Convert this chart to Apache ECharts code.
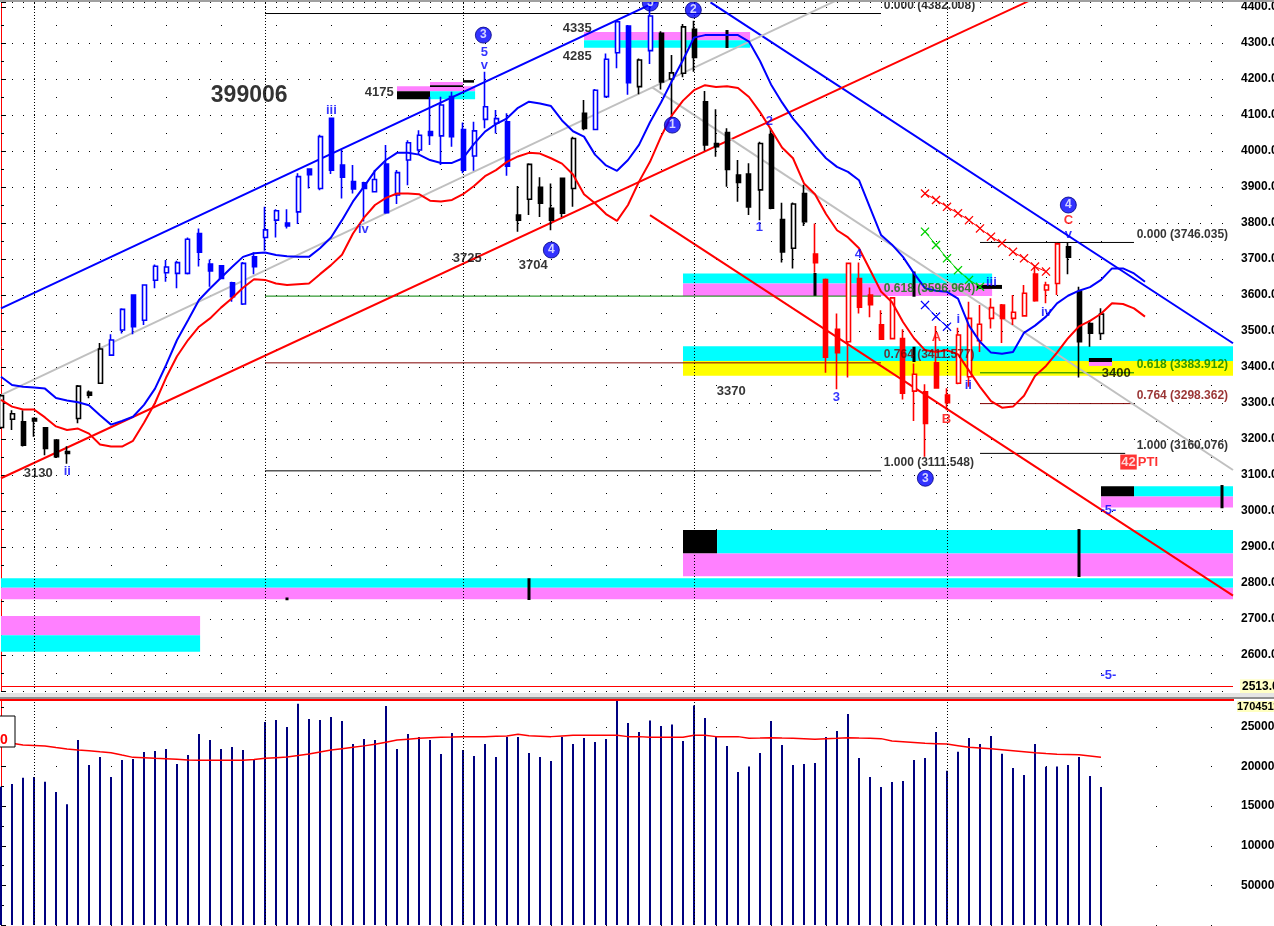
<!DOCTYPE html>
<html><head><meta charset="utf-8">
<script src="https://cdn.jsdelivr.net/npm/echarts@6/dist/echarts.min.js"></script>
<style>html,body{margin:0;padding:0;background:#fff;overflow:hidden}#c{width:1274px;height:926px}</style>
</head><body><div id="c"></div>
<script>
// ---- candle data (bar index = position) ----
const opens  = [3232,3255,3248,3257,3231,3197,3160,3257,3330,3355,3433,3503,3600,3530,3641,3662,3660,3660,3771,3686,3681,3634,3575,3706,3760,3808,3800,3831,3950,3896,4091,3961,3915,3912,3887,3964,3878,3975,4003,4054,4042,4151,4060,3986,4088,4077,4081,3822,3866,3899,3841,3924,3896,4105,4060,4151,4273,4347,4179,4279,4327,4200,4216,4338,4137,4021,4051,3933,3936,3892,4046,3810,3730,3882,3714,3643,3505,3470,3646,3600,3517,3479,3479,3333,3331,3412,3322,3355,3373,3473,3535,3572,3535,3542,3658,3614,3632,3734,3609,3521,3493];
const closes = [3320,3270,3183,3250,3174,3151,3165,3347,3322,3450,3475,3560,3512,3628,3680,3678,3690,3755,3719,3667,3646,3595,3688,3679,3781,3834,3792,3929,3934,4040,3947,3927,3895,3896,3921,3829,3940,4023,4044,4043,4128,4040,3947,4056,4123,4090,3958,3808,3963,3855,3808,3827,4035,4063,4169,4255,4359,4190,4253,4375,4192,4217,4345,4260,4017,4012,3949,3913,3845,4021,3841,3720,3853,3804,3690,3427,3440,3688,3566,3573,3477,3592,3327,3380,3243,3342,3301,3489,3535,3519,3565,3535,3552,3605,3584,3628,3742,3705,3470,3494,3547];
const lows   = [3228,3225,3179,3206,3155,3147,3131,3244,3313,3353,3431,3493,3491,3517,3619,3637,3619,3657,3679,3623,3645,3581,3572,3658,3723,3760,3785,3797,3896,3891,3936,3868,3882,3804,3885,3826,3853,3905,3989,4017,3961,4012,3938,3945,4063,4049,3931,3776,3822,3817,3780,3817,3845,4058,4058,4148,4230,4156,4158,4242,4171,4100,4205,4220,4001,3984,3901,3859,3822,3808,3838,3690,3674,3792,3662,3384,3338,3371,3549,3538,3475,3477,3310,3250,3151,3340,3280,3352,3345,3442,3507,3467,3517,3540,3581,3577,3600,3658,3371,3456,3475];
const highs  = [3325,3280,3280,3260,3232,3199,3180,3350,3335,3467,3491,3563,3602,3630,3685,3697,3695,3760,3785,3699,3683,3637,3692,3719,3845,3838,3838,3938,3952,4045,4092,4003,3961,3915,3947,4017,3947,4030,4058,4151,4151,4165,4079,4081,4220,4114,4105,3903,3966,3927,3910,3926,4040,4142,4172,4271,4364,4350,4257,4405,4333,4267,4353,4362,4167,4116,4063,3975,3966,4026,4063,3856,3857,3906,3799,3646,3549,3690,3690,3621,3558,3593,3505,3410,3352,3514,3341,3509,3581,3572,3591,3575,3600,3628,3683,3637,3745,3746,3623,3530,3563];
// k = black, b = blue, r = red
const candleColors = 'kkkkkkkkkkbbbbbbbbbbbbbbbbbbbbbbbbbbbbbbbbbbbbbkkkkkkkbbbbkbkkkkkkkkkkkkkkrrrrrrrrrrrrrrrrrrrrrrrkkkk'.split('');
// ---- volume ----
const volumes = [17443,17785,18585,18670,18080,16772,15253,23354,20190,21203,18670,20823,20949,21835,21962,22215,20316,21456,24114,23354,22215,22468,22089,20823,25633,25886,25000,27911,26013,25886,26266,25760,22848,23481,23354,27658,22215,24114,23734,23354,21582,24241,22089,21329,22848,21203,23734,23734,21709,21203,20696,23734,22848,23608,23101,23481,28400,25506,24367,25800,25127,25294,23228,27700,26139,23734,22595,19304,20021,21709,25760,22722,20190,20316,20443,23734,24494,26646,21076,18670,17405,18038,18165,20823,21076,24367,19473,21878,23608,22848,23861,21625,19810,18924,22848,19979,20021,20190,21203,18797,17405];
const volumeMA = [23139,22930,22722,22660,22595,22400,22215,22100,22000,21870,21750,21450,21160,21100,21033,20970,20907,20840,20780,20780,20780,20780,20780,20900,21033,21120,21203,21390,21582,21830,22089,22260,22426,22610,22806,23080,23354,23460,23565,23630,23692,23730,23777,23777,23777,23820,23861,24072,23900,23840,23777,23860,23945,23945,23945,23945,23945,23777,23777,23700,23692,23692,23692,23945,23945,23777,23777,23777,23565,23600,23650,23600,23560,23523,23439,23500,23565,23650,23600,23565,23523,23228,23143,23040,22932,22890,22848,22637,22426,22340,22257,22130,22004,21880,21750,21640,21540,21520,21498,21329,21160];
// ---- moving averages (displaced, run past last bar) ----
const maBlue = [3373,3350,3345,3343,3340,3314,3307,3302,3294,3266,3240,3250,3262,3295,3340,3405,3475,3530,3586,3618,3648,3678,3706,3716,3718,3711,3708,3706,3706,3730,3760,3808,3860,3901,3945,3975,3995,3995,3990,3975,3967,3967,3980,4020,4054,4075,4091,4120,4137,4132,4125,4085,4055,4040,3990,3960,3945,3975,4017,4080,4135,4195,4253,4315,4322,4322,4322,4322,4304,4250,4185,4135,4090,4054,4015,3980,3956,3942,3919,3843,3767,3740,3706,3660,3619,3612,3609,3590,3515,3470,3440,3437,3442,3495,3515,3540,3577,3598,3612,3622,3642,3674,3674,3660,3637];
const maRed  = [3309,3290,3282,3282,3260,3235,3225,3229,3215,3185,3179,3179,3195,3245,3300,3370,3430,3475,3512,3535,3565,3591,3620,3644,3642,3632,3628,3630,3632,3658,3683,3712,3771,3815,3850,3870,3882,3882,3880,3862,3860,3864,3880,3903,3930,3947,3970,3985,3995,3993,3980,3965,3935,3880,3855,3825,3806,3850,3915,3970,4040,4100,4140,4169,4183,4178,4180,4175,4150,4108,4060,4010,3980,3910,3880,3825,3780,3760,3730,3670,3610,3580,3525,3480,3447,3442,3447,3435,3390,3345,3305,3287,3290,3320,3375,3403,3440,3480,3513,3528,3548,3577,3575,3563,3540];
// ---- trend lines: [i1, p1, i2, p2, color] ----
const trendLines = [
  [0,3563,59.8,4418,'#0000ff'],
  [64.5,4413,112,3466,'#0000ff'],
  [0,3091,93.6,4419,'#ff0000'],
  [59,3822,112,2765,'#ff0000'],
  [0,3322,76,4419,'#c0c0c0'],
  [59.2,4177,112,3114,'#c0c0c0']
];
// ---- fibonacci levels: [i1, i2, price, color, text] ----
const fibLines = [
  [24,80,4382.008,'#000000','0.000 (4382.008)'],
  [24,80,3596.964,'#008000','0.618 (3596.964)'],
  [24,80,3411.577,'#800000','0.764 (3411.577)'],
  [24,80,3111.548,'#000000','1.000 (3111.548)'],
  [89,103,3746.035,'#000000','0.000 (3746.035)'],
  [89,103,3383.912,'#008000','0.618 (3383.912)'],
  [89,103,3298.362,'#800000','0.764 (3298.362)'],
  [89,102.2,3160.076,'#000000','1.000 (3160.076)']
];
// ---- colour bands: [i1, i2, pTop, pBottom, color] ----
const bands = [
  [36,43.1,4180,4166,'#ff80ff'],[36,39,4166,4144,'#000000'],[39,43.1,4166,4144,'#00ffff'],[39,42,4192,4183,'#ff80ff'],[39,42,4183,4178,'#000000'],[42,43,4197,4190,'#000000'],
  [53,68.1,4331,4308,'#ff80ff'],[53,68.1,4308,4287,'#00ffff'],
  [62,90.1,3660,3632,'#00ffff'],[62,90.1,3632,3597,'#ff80ff'],[88.7,91,3628,3617,'#000000'],
  [62,112,3458,3417,'#00ffff'],[62,112,3417,3376,'#ffff00'],[98.9,101,3425,3414,'#000000'],[98.9,101,3414,3403,'#ff80ff'],
  [100,103,3069,3040,'#000000'],[103,112,3069,3040,'#00ffff'],[100,112,3040,3010,'#ff80ff'],
  [62,65.1,2947,2882,'#000000'],[65.1,112,2947,2882,'#00ffff'],[62,112,2882,2819,'#ff80ff'],
  [0,112,2813,2787,'#00ffff'],[0,112,2787,2755,'#ff80ff'],
  [0,18.1,2708,2655,'#ff80ff'],[0,18.1,2655,2609,'#00ffff']
];
// ---- black vertical markers: [i, pTop, pBottom] ----
const markers = [[66,4336,4286],[74,3661,3597],[83,3665,3595],[83,3456,3414],[98,2950,2817],[111,3072,3008],[48,2813,2753],[26,2760,2752]];
// ---- cross series ----
const redCrossIdx = [84,85,86,87,88,89,90,91,92,93,94,95];
const redCrossVal = [3882,3864,3845,3827,3808,3785,3762,3744,3720,3702,3679,3665];
const greenCrossIdx = [84,85,86,87,88,89];
const greenCrossVal = [3776,3739,3702,3669,3642,3623];
const blueCrossIdx = [84,85,86];
const blueCrossVal = [3572,3540,3512];
// ---- wave circles: [i, p, text] ----
const waveCircles = [[43.85,4322,'3'],[59.03,4411,'5'],[62.94,4392,'2'],[61.03,4072,'1'],[50.03,3725,'4'],[84.03,3091,'3'],[97.03,3850,'4']];
// ---- wave texts (centered): [i, p, text, color] ----
const waveTexts = [
  [43.94,4275,'5','#0000ff'],[43.94,4239,'v','#0000ff'],[30.03,4114,'iii','#0000ff'],[32.94,3783,'iv','#0000ff'],
  [6.03,3111,'ii','#0000ff'],[68.94,3789,'1','#0000ff'],[69.85,4083,'2','#0000ff'],[75.94,3316,'3','#0000ff'],
  [77.94,3714,'4','#0000ff'],[85.03,3483,'A','#ff0000'],[85.94,3255,'B','#ff0000'],[87.03,3533,'i','#0000ff'],
  [87.94,3350,'ii','#0000ff'],[90.03,3636,'iii','#0000ff'],[95.03,3553,'iv','#0000ff'],[97.03,3806,'C','#ff0000'],
  [97.03,3767,'v','#0000ff'],[100.67,3003,'-5-','#0000ff'],[100.67,2544,'-5-','#0000ff']
];
// ---- price notes (left aligned): [i, p, text] ----
const priceNotes = [[33.03,4163.8,'4175'],[51.03,4341.6,'4335'],[51.03,4263.8,'4285'],[41.03,3702.7,'3725'],[47.03,3683.2,'3704'],[65.03,3333.2,'3370'],[2.03,3105.4,'3130'],[100.03,3383.2,'3400']];
const titleText = [19.03,4152.7,'399006'];
const ptiText = [102.5,3136,'42',103.3,'PTI'];
const cursorPrice = 2513;
const verticalGrid = [3,24,42,63,86];

const FONT = "'Liberation Sans', Arial, sans-serif";
const N = 113;
const cats = []; for (let i = 0; i < N; i++) cats.push(String(i));

const colorMap = {k:'#000000', b:'#0000ff', r:'#ff0000'};
const series = [];

// bands + cursor line
series.push({
  type:'line', xAxisIndex:1, yAxisIndex:0, data:[[0,3000]], showSymbol:false, symbol:'none',
  lineStyle:{opacity:0}, z:1, silent:true,
  markArea:{silent:true, data: bands.map(b => [{coord:[b[0],b[2]], itemStyle:{color:b[4], opacity:1}}, {coord:[b[1],b[3]]}])},
  markLine:{silent:true, symbol:['none','none'], animation:false,
    data:[
      ...verticalGrid.map(v => ({xAxis:v, lineStyle:{color:'#000', type:[1,2], width:1}, label:{show:false}})),
      {yAxis:cursorPrice, lineStyle:{color:'#ff0000', type:'solid', width:1},
       label:{show:true, position:'end', distance:7, formatter: cursorPrice.toFixed(3), color:'#000', fontWeight:'bold', fontSize:12, fontFamily:FONT, backgroundColor:'#ffffc8', padding:[1,2]}}
    ]}
});
// vertical dotted lines in volume pane
series.push({
  type:'line', xAxisIndex:3, yAxisIndex:1, data:[[0,-10]], showSymbol:false, symbol:'none', lineStyle:{opacity:0}, z:1, silent:true,
  markLine:{silent:true, symbol:['none','none'], animation:false,
    data: verticalGrid.map(v => ({xAxis:v})), lineStyle:{color:'#000', type:[1,2], width:1}, label:{show:false}}
});
// markers
markers.forEach(m => series.push({type:'line', xAxisIndex:1, yAxisIndex:0, data:[[m[0],m[1]],[m[0],m[2]]], symbol:'none', lineStyle:{color:'#000', width:3}, z:2, silent:true}));
// fib lines
fibLines.forEach(f => series.push({type:'line', xAxisIndex:1, yAxisIndex:0, data:[[f[0],f[2]],[f[1],f[2]]], symbol:'none', lineStyle:{color:f[3], width:1}, z:2, silent:true}));
// trend lines
trendLines.forEach(t => series.push({type:'line', xAxisIndex:1, yAxisIndex:0, data:[[t[0],t[1]],[t[2],t[3]]], symbol:'none', lineStyle:{color:t[4], width:2}, z:3, silent:true}));
// candles
['k','b','r'].forEach(code => {
  const data = [];
  for (let i = 0; i < opens.length; i++) if (candleColors[i] === code) data.push([i, opens[i], closes[i], lows[i], highs[i]]);
  const c = colorMap[code];
  series.push({type:'candlestick', xAxisIndex:0, yAxisIndex:0, data, encode:{x:0, y:[1,2,3,4]}, barWidth:4.5,
    itemStyle:{color:'#ffffff', color0:c, borderColor:c, borderColor0:c, borderWidth:1.6}, z:5, silent:true});
});
// moving averages
series.push({type:'line', xAxisIndex:1, yAxisIndex:0, data: maBlue.map((v,i)=>[i,v]), symbol:'none', lineStyle:{color:'#0000ff', width:2}, z:6, silent:true});
series.push({type:'line', xAxisIndex:1, yAxisIndex:0, data: maRed.map((v,i)=>[i,v]), symbol:'none', lineStyle:{color:'#ff0000', width:2}, z:6, silent:true});
// crosses
const XPATH = 'path://M0,1L1,0L5,4L9,0L10,1L6,5L10,9L9,10L5,6L1,10L0,9L4,5Z';
[[redCrossIdx,redCrossVal,'#ff0000'],[greenCrossIdx,greenCrossVal,'#00d000'],[blueCrossIdx,blueCrossVal,'#0000ff']].forEach(s => {
  series.push({type:'line', xAxisIndex:1, yAxisIndex:0, data: s[0].map((v,k)=>[v, s[1][k]]), symbol:XPATH, symbolSize:9, showSymbol:true,
    itemStyle:{color:s[2]}, lineStyle:{color:s[2], width:1}, z:6, silent:true});
});
// wave circles
series.push({type:'scatter', xAxisIndex:1, yAxisIndex:0, data: waveCircles.map(w => ({value:[w[0],w[1]], name:w[2]})), symbol:'circle', symbolSize:16,
  itemStyle:{color:'#0000ff', borderColor:'#000080', borderWidth:1}, z:8, silent:true,
  label:{show:true, position:'inside', formatter:p=>p.name, color:'#fff', fontWeight:'bold', fontSize:12, fontFamily:FONT}});
// wave texts
series.push({type:'scatter', xAxisIndex:1, yAxisIndex:0, data: waveTexts.map(w => ({value:[w[0],w[1]], name:w[2], label:{color:w[3]}})), symbolSize:1,
  itemStyle:{color:'rgba(0,0,0,0)'}, z:8, silent:true,
  label:{show:true, position:'inside', formatter:p=>p.name, fontSize:13, fontWeight:'bold', fontFamily:FONT}});
// price notes + fib labels + title
const leftTexts = [];
priceNotes.forEach(n => leftTexts.push({value:[n[0],n[1]], name:n[2], label:{color:'#000', fontSize:13}}));
fibLines.forEach(f => leftTexts.push({value:[f[1] === 80 ? 80.21 : 103.2, f[2] + 22], name:f[4], label:{color:f[3]}}));
leftTexts.push({value:[titleText[0],titleText[1]], name:titleText[2], label:{color:'#000', fontSize:23}});
leftTexts.push({value:[ptiText[3],ptiText[1]], name:ptiText[4], label:{color:'#ff0000', fontSize:13}});
series.push({type:'scatter', xAxisIndex:1, yAxisIndex:0, data:leftTexts, symbolSize:1, itemStyle:{color:'rgba(0,0,0,0)'}, z:9, silent:true,
  label:{show:true, position:'right', distance:0, formatter:p=>p.name, fontSize:12, fontWeight:'bold', fontFamily:FONT}});
series.push({type:'scatter', xAxisIndex:1, yAxisIndex:0, data:[{value:[ptiText[0],ptiText[1]], name:ptiText[2]}], symbolSize:1, itemStyle:{color:'rgba(0,0,0,0)'}, z:9, silent:true,
  label:{show:true, position:'inside', formatter:p=>p.name, fontSize:13, fontWeight:'bold', color:'#fff', backgroundColor:'#ff0000', padding:[1,1], fontFamily:FONT}});
// volume
series.push({type:'bar', xAxisIndex:2, yAxisIndex:1, data: volumes.map((v,i)=>[i,v]), barWidth:2, itemStyle:{color:'#000080'}, z:3, silent:true});
series.push({type:'line', xAxisIndex:2, yAxisIndex:1, data: volumeMA.map((v,i)=>[i,v]), symbol:'none', lineStyle:{color:'#ff0000', width:1.5}, z:4, silent:true});

const axisLabelStyle = {color:'#000', fontSize:12, fontWeight:'bold', fontFamily:FONT, showMinLabel:false, showMaxLabel:false};
const option = {
  animation:false,
  backgroundColor:'#ffffff',
  grid:[
    {left:1, right:41, top:2, height:689, outerBoundsMode:'none', containLabel:false},
    {left:1, right:41, top:700, height:225, outerBoundsMode:'none', containLabel:false}
  ],
  xAxis:[
    {type:'category', gridIndex:0, data:cats, boundaryGap:false, show:false},
    {type:'value', gridIndex:0, min:0, max:112, show:false},
    {type:'category', gridIndex:1, data:cats, boundaryGap:false, show:false},
    {type:'value', gridIndex:1, min:0, max:112, show:false}
  ],
  yAxis:[
    {type:'value', gridIndex:0, position:'right', min:2500, max:4414, interval:100,
      axisLine:{show:true, lineStyle:{color:'#ff0000', width:1}},
      axisTick:{show:true, length:5, lineStyle:{color:'#000'}},
      minorTick:{show:true, splitNumber:2, length:3, lineStyle:{color:'#000'}},
      axisLabel:Object.assign({margin:8, formatter:v=>v.toFixed(3)}, axisLabelStyle),
      splitLine:{show:true, lineStyle:{color:'#000', type:[1,10], width:1}},
      minorSplitLine:{show:true, lineStyle:{color:'#000', type:[1,54], width:1}}
    },
    {type:'value', gridIndex:1, position:'right', min:0, max:28400, interval:5000,
      axisLine:{show:true, lineStyle:{color:'#ff0000', width:1}},
      axisTick:{show:true, length:5, lineStyle:{color:'#000'}},
      minorTick:{show:true, splitNumber:2, length:3, lineStyle:{color:'#000'}},
      axisLabel:Object.assign({margin:8, formatter:v=>String(v*10000)}, axisLabelStyle),
      splitLine:{show:true, lineStyle:{color:'#000', type:[1,54], width:1}}
    }
  ],
  graphic:[
    {type:'rect', shape:{x:0,y:0,width:1274,height:2}, style:{fill:'#a0a0a0'}, z:100, silent:true},
    {type:'rect', shape:{x:0,y:693,width:1274,height:4}, style:{fill:'#e4e4e4'}, z:100, silent:true},
    {type:'rect', shape:{x:0,y:697,width:1274,height:2}, style:{fill:'#909090'}, z:100, silent:true},
    {type:'rect', shape:{x:0,y:699,width:1234,height:2}, style:{fill:'#ff0000'}, z:100, silent:true},
    {type:'rect', shape:{x:-12,y:716,width:27,height:31}, style:{fill:'#ffffff', stroke:'#000', lineWidth:1}, z:50, silent:true},
    {type:'text', x:0, y:733, style:{text:'0', fill:'#ff0000', font:"bold 14px 'Liberation Sans', Arial"}, z:51, silent:true},
    {type:'text', x:1237, y:701, style:{text:'17045114', fill:'#000', font:"bold 11px 'Liberation Sans', Arial", backgroundColor:'#ffffc0'}, z:99, silent:true}
  ],
  series
};
const chart = echarts.init(document.getElementById('c'));
chart.setOption(option);
</script>
</body></html>
